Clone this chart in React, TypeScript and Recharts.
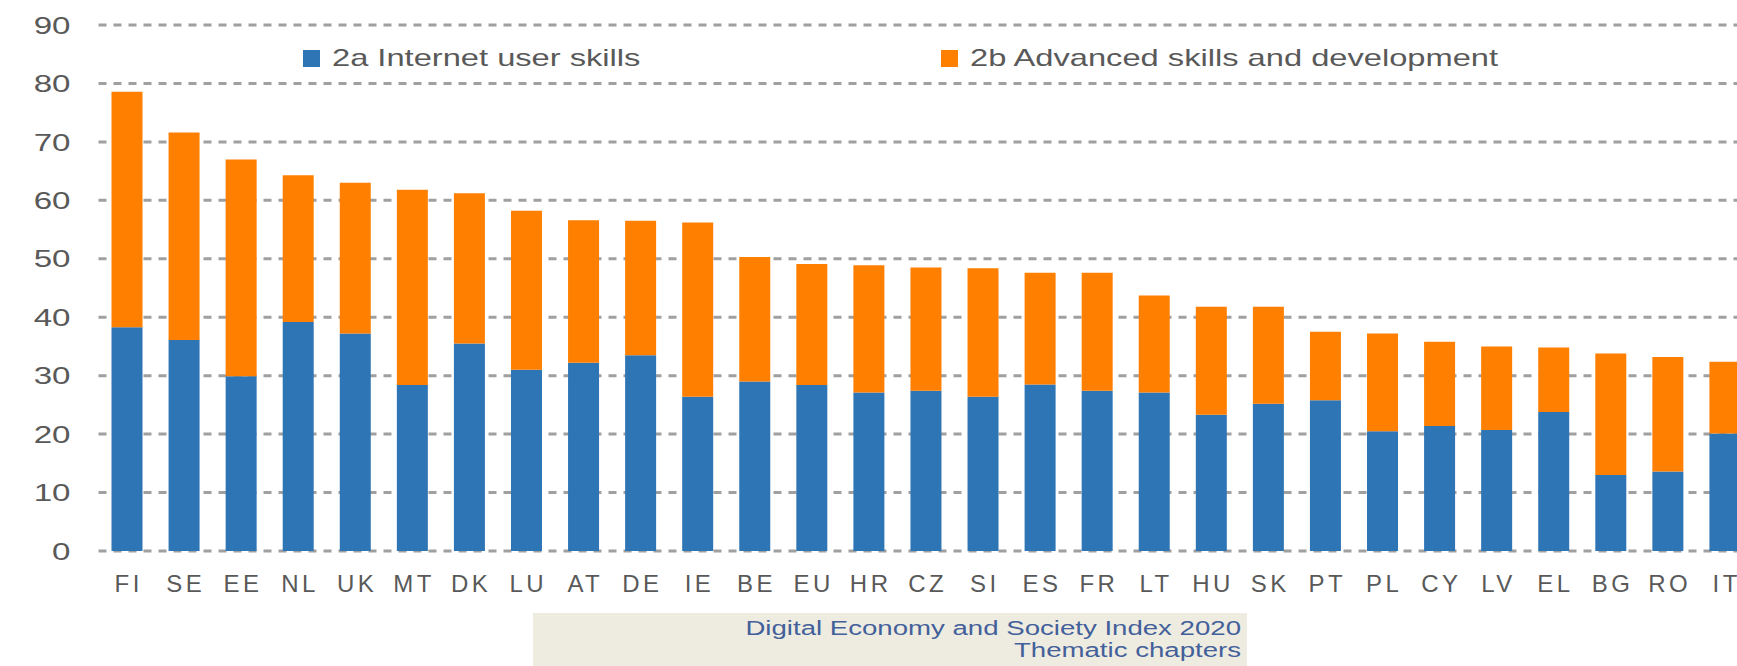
import { Bar, BarChart, CartesianGrid, XAxis, YAxis } from "recharts";

const countries = [
  "FI", "SE", "EE", "NL", "UK", "MT", "DK", "LU", "AT", "DE", "IE", "BE", "EU", "HR", "CZ",
  "SI", "ES", "FR", "LT", "HU", "SK", "PT", "PL", "CY", "LV", "EL", "BG", "RO", "IT",
];
const internetUserSkills = [
  38.3, 36.1, 29.9, 39.2, 37.2, 28.4, 35.5, 31.0, 32.2, 33.5, 26.4, 29.0, 28.4, 27.1, 27.4,
  26.4, 28.5, 27.4, 27.1, 23.3, 25.2, 25.8, 20.5, 21.4, 20.7, 23.8, 13.0, 13.6, 20.1,
];
const advancedSkills = [
  40.3, 35.5, 37.1, 25.1, 25.8, 33.4, 25.7, 27.2, 24.4, 23.0, 29.8, 21.3, 20.7, 21.8, 21.1,
  22.0, 19.1, 20.2, 16.6, 18.5, 16.6, 11.7, 16.7, 14.4, 14.3, 11.0, 20.8, 19.6, 12.3,
];
const yTicks = [0, 10, 20, 30, 40, 50, 60, 70, 80, 90];
const seriesNames = ["2a Internet user skills", "2b Advanced skills and development"];
const footerLines = ["Digital Economy and Society Index 2020", "Thematic chapters"];

const BLUE = "#2e75b6";
const ORANGE = "#ff7f00";
const TEXT = "#595959";
const FONT = "'Liberation Sans', Arial, sans-serif";

const data = countries.map((c, i) => ({
  name: c,
  a: internetUserSkills[i],
  b: advancedSkills[i],
}));

const xTickStyle = { fontSize: 24, fill: TEXT, fontFamily: FONT, letterSpacing: 3.5 } as const;

// the source image is stretched sideways, so the y labels are drawn wide
// eslint-disable-next-line @typescript-eslint/no-explicit-any
function YTick({ x, y, payload }: any) {
  return (
    <text
      transform={`translate(${x},${y}) scale(1.38,1)`}
      textAnchor="end"
      dy="0.36em"
      fontSize={24}
      fill={TEXT}
      fontFamily={FONT}
    >
      {payload.value}
    </text>
  );
}

function LegendItem({ color, label, left }: { color: string; label: string; left: number }) {
  return (
    <div
      style={{
        position: "absolute",
        left,
        top: 44,
        height: 28,
        display: "flex",
        alignItems: "center",
        fontFamily: FONT,
        fontSize: 24,
        color: TEXT,
        whiteSpace: "nowrap",
      }}
    >
      <span style={{ width: 17, height: 17, background: color, marginRight: 12, display: "inline-block" }} />
      <span style={{ display: "inline-block", transform: "scaleX(1.36)", transformOrigin: "left center" }}>
        {label}
      </span>
    </div>
  );
}

export default function App() {
  return (
    <div
      style={{
        position: "fixed",
        left: 0,
        top: 0,
        width: 1737,
        height: 666,
        overflow: "hidden",
        background: "#fff",
      }}
    >
      <BarChart
        width={1760}
        height={666}
        data={data}
        margin={{ top: 25, right: 6.5, left: 0, bottom: 75 }}
        barCategoryGap={0}
      >
        <CartesianGrid
          vertical={false}
          stroke="#a0a0a0"
          strokeWidth={3}
          strokeDasharray="8 7"
        />
        <XAxis
          dataKey="name"
          axisLine={false}
          tickLine={false}
          interval={0}
          height={40}
          tickMargin={18}
          tick={{ ...xTickStyle, dx: 1.75 }}
        />
        <YAxis
          domain={[0, 90]}
          ticks={yTicks}
          width={98.5}
          axisLine={false}
          tickLine={false}
          tickMargin={22}
          tick={<YTick />}
        />
        <Bar dataKey="a" name={seriesNames[0]} stackId="s" fill={BLUE} barSize={31} isAnimationActive={false} />
        <Bar dataKey="b" name={seriesNames[1]} stackId="s" fill={ORANGE} barSize={31} isAnimationActive={false} />
      </BarChart>

      <LegendItem color={BLUE} label={seriesNames[0]} left={303} />
      <LegendItem color={ORANGE} label={seriesNames[1]} left={941} />

      <div
        style={{
          position: "absolute",
          left: 533,
          top: 613,
          width: 714,
          height: 53,
          background: "#eeece1",
          boxSizing: "border-box",
          paddingRight: 6,
          paddingTop: 4,
          textAlign: "right",
          fontFamily: FONT,
          fontSize: 20,
          lineHeight: "22px",
          color: "#43609a",
        }}
      >
        {footerLines.map((l) => (
          <div
            key={l}
            style={{ transform: "scaleX(1.38)", transformOrigin: "right center", whiteSpace: "nowrap" }}
          >
            {l}
          </div>
        ))}
      </div>
    </div>
  );
}
